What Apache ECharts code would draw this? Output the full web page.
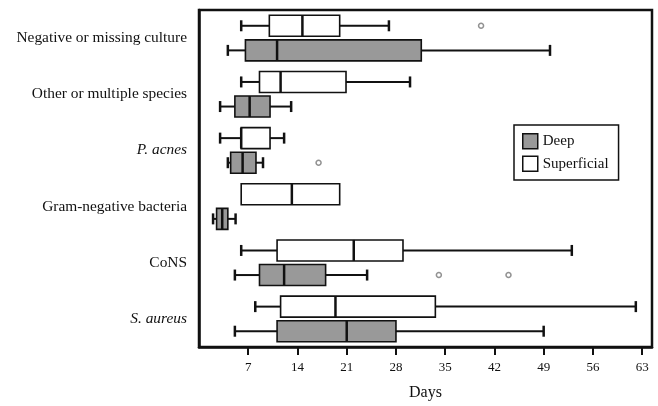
<!DOCTYPE html>
<html><head><meta charset="utf-8">
<script src="https://cdn.jsdelivr.net/npm/echarts@6/dist/echarts.min.js"></script>
<style>html,body{margin:0;padding:0;background:#fff}#c{width:658px;height:406px}</style>
</head><body><div id="c"></div>
<script>
const categories = ['Negative or missing culture', 'Other or multiple species', 'P. acnes', 'Gram-negative bacteria', 'CoNS', 'S. aureus'];
const italicCategories = ['P. acnes', 'S. aureus'];
const xTicks = [7, 14, 21, 28, 35, 42, 49, 56, 63];
// [low whisker, Q1, median, Q3, high whisker] per category (days)
const superficialStats = [
  [6, 10, 14.7, 20, 27],
  [6, 8.6, 11.6, 20.9, 30],
  [3, 6, 6, 10.1, 12.1],
  [6, 6, 13.2, 20, 20],
  [6, 11.1, 22, 29, 53],
  [8, 11.6, 19.4, 33.6, 62.1]
];
const deepStats = [
  [4.1, 6.6, 11.1, 31.6, 49.9],
  [3, 5.1, 7.2, 10.1, 13.1],
  [4.1, 4.5, 6.2, 8.1, 9.1],
  [2, 2.5, 3.3, 4.1, 5.2],
  [5.1, 8.6, 12.1, 18, 23.9],
  [5.1, 11.1, 21, 28, 49]
];
// [days, category index]
const superficialOutliers = [[40.1, 0]];
const deepOutliers = [[17, 2], [34.1, 4], [44, 4]];

const FONT = 'Liberation Serif';
const INK = '#111';

function toRows(stats) {
  return stats.map((s, i) => [i].concat(s));
}

function makeRender(sign, fill) {
  return function (params, api) {
    const cat = api.value(0);
    const lo = api.value(1), q1 = api.value(2), med = api.value(3), q3 = api.value(4), hi = api.value(5);
    const cy = api.coord([0, cat])[1] + sign * 12.3;
    const X = v => api.coord([v, cat])[0];
    const bh = 21, ch = 11;
    const lineStyle = { stroke: INK, lineWidth: 2 };
    const children = [];
    if (lo < q1) {
      children.push({ type: 'line', shape: { x1: X(lo), y1: cy, x2: X(q1), y2: cy }, style: lineStyle });
      children.push({ type: 'line', shape: { x1: X(lo), y1: cy - ch / 2, x2: X(lo), y2: cy + ch / 2 }, style: { stroke: INK, lineWidth: 2.5 } });
    }
    if (hi > q3) {
      children.push({ type: 'line', shape: { x1: X(q3), y1: cy, x2: X(hi), y2: cy }, style: lineStyle });
      children.push({ type: 'line', shape: { x1: X(hi), y1: cy - ch / 2, x2: X(hi), y2: cy + ch / 2 }, style: { stroke: INK, lineWidth: 2.5 } });
    }
    children.push({ type: 'rect', shape: { x: X(q1), y: cy - bh / 2, width: X(q3) - X(q1), height: bh }, style: { fill: fill, stroke: INK, lineWidth: 1.6 } });
    children.push({ type: 'line', shape: { x1: X(med), y1: cy - bh / 2, x2: X(med), y2: cy + bh / 2 }, style: { stroke: INK, lineWidth: 2.5 } });
    return { type: 'group', children: children };
  };
}

const chart = echarts.init(document.getElementById('c'), null, { renderer: 'canvas' });
chart.setOption({
  animation: false,
  backgroundColor: '#fff',
  textStyle: { fontFamily: FONT },
  grid: { left: 199, right: 6, top: 10, bottom: 58, show: true, borderColor: INK, borderWidth: 2.5, backgroundColor: 'transparent' },
  legend: {
    orient: 'vertical', left: 514, top: 125,
    padding: [8, 10, 8, 8],
    itemGap: 6, itemWidth: 15, itemHeight: 15,
    borderColor: INK, borderWidth: 1.5,
    textStyle: { fontFamily: FONT, fontSize: 15, color: INK },
    data: [
      { name: 'Deep', icon: 'rect', itemStyle: { color: '#999', borderColor: INK, borderWidth: 1.5 } },
      { name: 'Superficial', icon: 'rect', itemStyle: { color: '#fff', borderColor: INK, borderWidth: 1.5 } }
    ]
  },
  xAxis: {
    type: 'value', min: 0, max: 64.4, interval: 7,
    name: 'Days', nameLocation: 'middle', nameGap: 38,
    nameTextStyle: { fontFamily: FONT, fontSize: 16, color: INK },
    splitLine: { show: false },
    axisLine: { show: true, lineStyle: { color: INK, width: 2.5 } },
    axisTick: { show: true, length: 8, customValues: xTicks, lineStyle: { color: INK, width: 2 } },
    axisLabel: {
      margin: 14, fontFamily: FONT, fontSize: 13, color: INK,
      customValues: xTicks
    }
  },
  yAxis: {
    type: 'category', data: categories, inverse: true,
    axisLine: { show: true, lineStyle: { color: INK, width: 2.5 } },
    axisTick: { show: false },
    splitLine: { show: false },
    axisLabel: {
      margin: 12, fontFamily: FONT, fontSize: 15.4, color: INK,
      formatter: v => (italicCategories.indexOf(v) >= 0 ? '{i|' + v + '}' : v),
      rich: { i: { fontFamily: FONT, fontSize: 15.4, fontStyle: 'italic', color: INK } }
    }
  },
  series: [
    {
      name: 'Superficial', type: 'custom', renderItem: makeRender(-1, '#fff'),
      itemStyle: { color: '#fff', borderColor: INK },
      encode: { x: [1, 2, 3, 4, 5], y: 0 },
      data: toRows(superficialStats)
    },
    {
      name: 'Deep', type: 'custom', renderItem: makeRender(1, '#999'),
      itemStyle: { color: '#999', borderColor: INK },
      encode: { x: [1, 2, 3, 4, 5], y: 0 },
      data: toRows(deepStats)
    },
    {
      name: 'Superficial outliers', type: 'scatter', symbol: 'circle', symbolSize: 5,
      symbolOffset: [0, -12.3],
      itemStyle: { color: '#fff', borderColor: '#777', borderWidth: 1.5 },
      data: superficialOutliers
    },
    {
      name: 'Deep outliers', type: 'scatter', symbol: 'circle', symbolSize: 5,
      symbolOffset: [0, 12.3],
      itemStyle: { color: '#fff', borderColor: '#777', borderWidth: 1.5 },
      data: deepOutliers
    }
  ]
});
</script>
</body></html>
